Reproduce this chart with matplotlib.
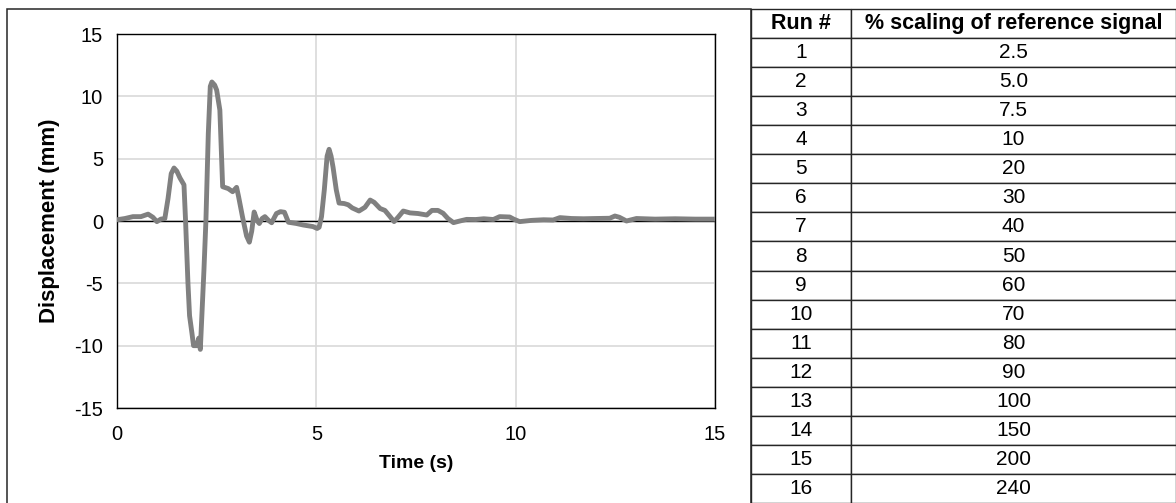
import matplotlib
matplotlib.use("Agg")
import matplotlib.pyplot as plt
from matplotlib.patches import Rectangle

plt.rcParams["font.family"] = ["Liberation Sans", "DejaVu Sans"]
plt.rcParams["axes.unicode_minus"] = False

# displacement trace
time_s = [0.0, 0.2, 0.4, 0.6, 0.78, 0.9, 1.0, 1.1, 1.2, 1.28, 1.36, 1.43, 1.5, 1.58, 1.68,
          1.72, 1.78, 1.82, 1.88, 1.92, 2.0, 2.05, 2.09, 2.13, 2.18, 2.23, 2.29, 2.34, 2.38,
          2.45, 2.5, 2.58, 2.65, 2.79, 2.9, 3.0, 3.05, 3.15, 3.25, 3.32, 3.38, 3.44, 3.52,
          3.57, 3.64, 3.71, 3.8, 3.88, 3.95, 4.0, 4.1, 4.2, 4.3, 4.5, 4.67, 4.92, 5.02, 5.07,
          5.13, 5.2, 5.27, 5.32, 5.37, 5.42, 5.5, 5.57, 5.7, 5.8, 5.9, 6.07, 6.22, 6.35, 6.45,
          6.6, 6.72, 6.85, 6.95, 7.05, 7.18, 7.35, 7.55, 7.77, 7.9, 8.05, 8.18, 8.3, 8.44,
          8.6, 8.77, 9.0, 9.2, 9.44, 9.6, 9.85, 9.95, 10.1, 10.4, 10.7, 10.94, 11.11, 11.4,
          11.7, 12.0, 12.36, 12.49, 12.6, 12.78, 13.03, 13.5, 14.0, 14.5, 15.0]
disp_mm = [0.1, 0.2, 0.35, 0.35, 0.55, 0.3, -0.05, 0.15, 0.2, 1.8, 3.8, 4.25, 4.0, 3.45, 2.9,
           0.0, -5.0, -7.6, -9.0, -10.0, -10.0, -9.4, -10.3, -7.5, -4.0, 0.0, 7.0, 10.8, 11.15,
           10.9, 10.5, 8.9, 2.75, 2.6, 2.35, 2.7, 1.95, 0.3, -1.2, -1.7, -0.8, 0.72, 0.0,
           -0.2, 0.2, 0.35, 0.05, -0.14, 0.3, 0.6, 0.75, 0.7, -0.1, -0.2, -0.32, -0.45, -0.6, -0.5,
           0.35, 2.5, 5.2, 5.75, 5.2, 4.3, 2.5, 1.44, 1.4, 1.3, 1.05, 0.8, 1.1, 1.68, 1.5,
           1.0, 0.85, 0.35, -0.05, 0.3, 0.8, 0.65, 0.6, 0.48, 0.85, 0.85, 0.62, 0.2, -0.13,
           0.0, 0.13, 0.12, 0.18, 0.12, 0.35, 0.32, 0.15, -0.05, 0.05, 0.1, 0.08, 0.27, 0.2,
           0.18, 0.2, 0.22, 0.4, 0.3, 0.0, 0.2, 0.15, 0.18, 0.15, 0.15]

x_ticks = [0, 5, 10, 15]
y_ticks = [-15, -10, -5, 0, 5, 10, 15]

run_numbers = [str(i) for i in range(1, 17)]
scaling_pct = ["2.5", "5.0", "7.5", "10", "20", "30", "40", "50", "60", "70",
               "80", "90", "100", "150", "200", "240"]

W, H = 1176, 503
fig = plt.figure(figsize=(W / 100, H / 100), dpi=100)

# chart border box
fig.patches.append(Rectangle((7 / W, -0.05), (751 - 7) / W, 1 - 9 / H + 0.05,
                             transform=fig.transFigure, fill=False,
                             edgecolor="#262626", linewidth=1.1))

ax = fig.add_axes([117 / W, 1 - 408 / H, (715 - 117) / W, (408 - 34) / H])
ax.plot(time_s, disp_mm, color="#808080", linewidth=3.5, solid_joinstyle="round",
        zorder=3)
ax.axhline(0, color="black", linewidth=1.0, zorder=2)
ax.set_xlim(0, 15)
ax.set_ylim(-15, 15)
ax.set_xticks(x_ticks)
ax.set_yticks(y_ticks)
ax.grid(True, color="#d9d9d9", linewidth=1.2)
ax.set_axisbelow(True)
ax.tick_params(length=0, labelsize=14.5, pad=10)
ax.tick_params(axis="x", pad=12)
for s in ax.spines.values():
    s.set_color("black")
    s.set_linewidth(1.0)
ax.set_xlabel("Time (s)", fontsize=14, fontweight="bold", labelpad=8)
ax.set_ylabel("Displacement (mm)", fontsize=16, fontweight="bold", labelpad=10)

# table of runs
tax = fig.add_axes([751 / W, 0, (W - 751) / W, (503 - 9) / H])
tax.axis("off")
cells = [[r, s] for r, s in zip(run_numbers, scaling_pct)]
tbl = tax.table(cellText=cells, colLabels=["Run #", "% scaling of reference signal"],
                cellLoc="center", bbox=[0, 0, 1, 1],
                colWidths=[100 / 425, 325 / 425])
tbl.auto_set_font_size(False)
tbl.set_fontsize(15)
for (r, c), cell in tbl.get_celld().items():
    cell.set_edgecolor("#262626")
    cell.set_linewidth(1.0)
    if r == 0:
        cell.get_text().set_fontweight("bold")
        cell.get_text().set_fontsize(15.5)

fig.savefig("out.png", dpi=100)
